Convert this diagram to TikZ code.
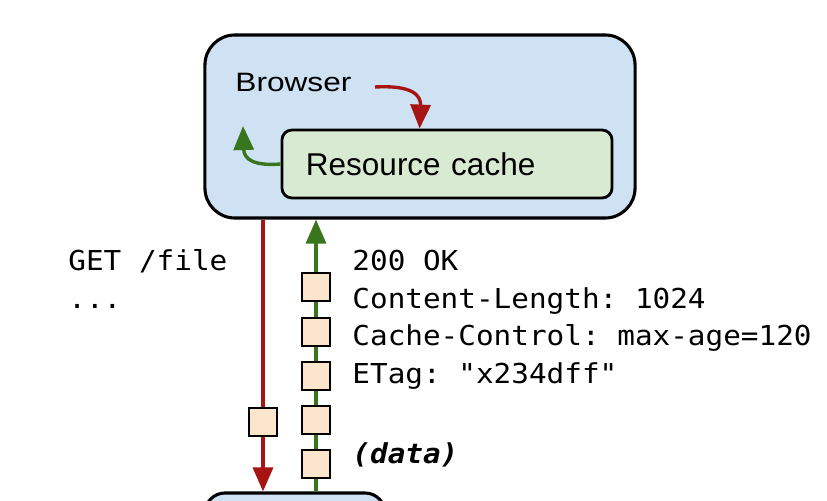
\documentclass[tikz,border=0pt]{standalone}
\usepackage{fontspec}
\setmainfont{Liberation Sans}
\setmonofont[FakeStretch=1.07]{DejaVu Sans Mono}
\newfontfamily\browserfont[FakeStretch=1.19]{Liberation Sans}
\usetikzlibrary{arrows.meta,calc}

\definecolor{browserblue}{HTML}{CFE2F3}
\definecolor{cachegreen}{HTML}{D9EAD3}
\definecolor{packetpeach}{HTML}{FCE5CD}
\definecolor{reqred}{RGB}{166,20,20}
\definecolor{respgreen}{RGB}{56,118,29}

\begin{document}
\begin{tikzpicture}[
                    x=0.025cm,
                    y=-0.025cm,
                    >={Triangle[length=0.6cm,width=0.5cm]},
                    semithick
                ]
                \tikzstyle{browserbox}=[draw=black,line width=2.2pt,fill=browserblue,rounded corners=0.75cm,minimum width=10.75cm,minimum height=4.575cm]
                \tikzstyle{cachebox}=[draw=black,line width=2pt,fill=cachegreen,rounded corners=0.25cm,text width=7.05cm,inner xsep=0.6cm,minimum height=1.7cm,align=left,font=\fontsize{22.4}{24}\selectfont]
                \tikzstyle{packet}=[draw=black,line width=1.3pt,fill=packetpeach,minimum size=0.72cm,inner sep=0pt]
                \tikzstyle{reqline}=[->,draw=reqred,line width=2.4pt]
                \tikzstyle{respline}=[->,draw=respgreen,line width=2.4pt]
                \tikzstyle{mono}=[anchor=base west,inner sep=0pt,align=left,font=\ttfamily\fontsize{19.5}{26.7}\selectfont]

                \useasboundingbox (0,0) rectangle (827,500);
                \clip (0,0) rectangle (827,500);

                \node[browserbox] (browser) at (420,126.5) {};
                \node[cachebox]   (cache)   at (447,164) {Resource cache};
                \node[browserbox,minimum width=4.5cm,minimum height=2.5cm,rounded corners=0.5cm] (server) at (295,543) {};
                \node[anchor=base west,inner sep=0pt,font=\browserfont\fontsize{18.9}{20}\selectfont] (browserlabel) at (235,91.7) {Browser};

                % lookup in the cache, and the answer from it
                \coordinate (lookup) at (375,87);
                \draw[reqline] (lookup) .. controls (412,85) and (421,95) .. ([xshift=3.475cm]cache.north west);
                \draw[respline] (cache.west) .. controls (255,166) and (244,160) .. (243,126);

                % request and response
                \coordinate (get) at (263,0);
                \coordinate (ok)  at (316,0);
                \path
                (browser.south -| get) edge [reqline]  (server.north -| get)
                (server.north -| ok)   edge [respline] (browser.south -| ok)
                ;

                \node[packet] (req1) at (263,422) {};
                \foreach \y [count=\i] in {287,332,376,420,464}
                    \node[packet] (resp\i) at (316,\y) {};

                % base of a node of several lines is its last line
                \node[mono] (request)  at (68,308)    {GET /file\\...};
                \node[mono] (response) at (352,383.5) {200 OK\\Content-Length: 1024\\Cache-Control: max-age=120\\ETag: "x234dff"};
                \node[mono,font=\ttfamily\bfseries\itshape\fontsize{19.5}{26.7}\selectfont] (payload) at (352,463) {(data)};
            \end{tikzpicture}
\end{document}
